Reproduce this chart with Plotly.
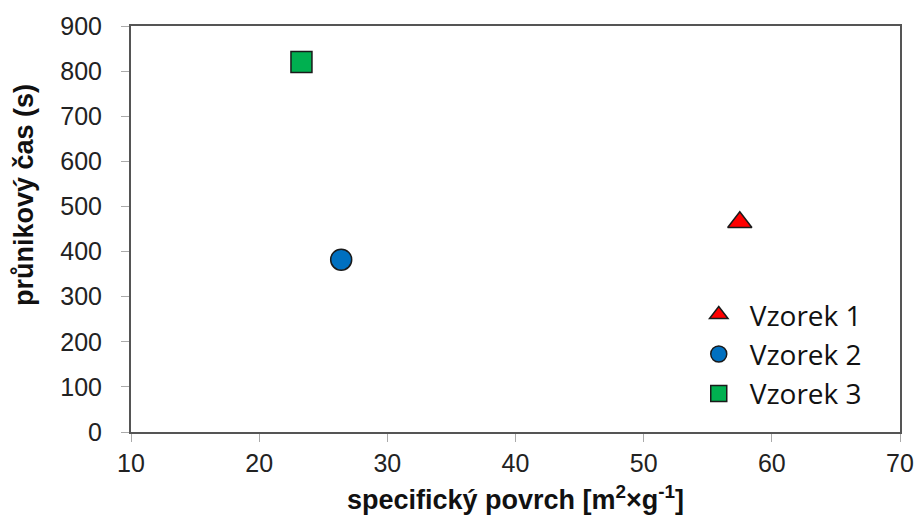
import plotly.graph_objects as go

samples = ["Vzorek 1", "Vzorek 2", "Vzorek 3"]
surface = [57.5, 26.4, 23.3]
breakthrough = [465, 382, 820]

symbols = ["triangle-up", "circle", "square"]
colors = ["#ff0000", "#0070c0", "#00b050"]
sizes = [21, 21, 21]

fig = go.Figure()
for name, x, y, sym, col, sz in zip(samples, surface, breakthrough, symbols, colors, sizes):
    fig.add_trace(go.Scatter(
        x=[x], y=[y], mode="markers", name=name,
        marker=dict(symbol=sym, color=col, size=sz, line=dict(color="#1a1a1a", width=1.5)),
    ))

tick_font = dict(family="Liberation Sans, Arial", size=25, color="#222")
title_font = dict(family="Liberation Sans, Arial", size=27, color="#111")
fig.update_layout(
    width=917, height=515,
    margin=dict(l=131, r=17, t=26, b=83),
    paper_bgcolor="white", plot_bgcolor="white",
    font=tick_font,
    showlegend=True,
    legend=dict(
        x=0.724, y=0.35, xanchor="left", yanchor="top",
        font=dict(family="Open Sans, Noto Sans", size=28, color="#111"),
        bgcolor="rgba(0,0,0,0)", itemsizing="trace", itemwidth=52, tracegroupgap=0,
    ),
)
fig.update_xaxes(
    range=[10, 70], dtick=10, showgrid=False, zeroline=False, automargin=False,
    showline=True, linecolor="#555", linewidth=2, mirror=True,
    ticks="outside", ticklen=8, tickcolor="#aaa", ticklabeloverflow="allow",
    tickfont=tick_font,
    title=dict(text="<b>specifický povrch [m<sup>2</sup>×g<sup>-1</sup>]</b>", font=title_font, standoff=14),
)
fig.update_yaxes(
    range=[0, 900], dtick=100, showgrid=False, zeroline=False, automargin=False,
    showline=True, linecolor="#555", linewidth=2, mirror=True,
    ticks="outside", ticklen=8, tickcolor="#aaa", ticklabelstandoff=14,
    tickfont=tick_font,
)

# y title sits a bit above the middle of the axis in the original
fig.add_annotation(
    text="<b>průnikový čas (s)</b>", textangle=-90,
    xref="paper", yref="paper", x=-0.139, y=0.584,
    xanchor="center", yanchor="middle", showarrow=False, font=title_font,
)

# drop the default 8px page margin so the figure fills the window exactly
fig.write_html(
    "out.html",
    config={"displayModeBar": False},
    post_script="document.body.style.margin = '0';",
)
